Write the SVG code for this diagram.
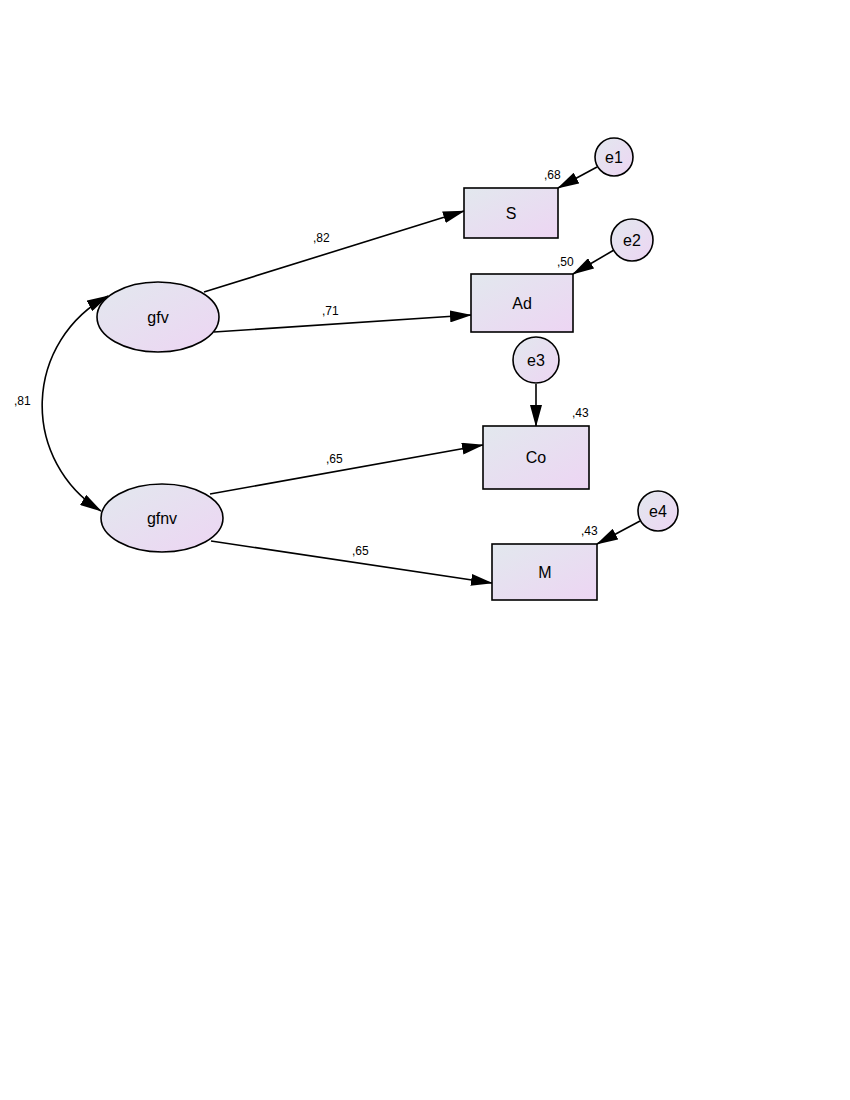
<svg xmlns="http://www.w3.org/2000/svg" width="850" height="1100" viewBox="0 0 850 1100">
<defs>
<linearGradient id="g" x1="0" y1="0" x2="1" y2="1">
<stop offset="0" stop-color="#e2e8ee"/>
<stop offset="1" stop-color="#edd5f3"/>
</linearGradient>
<marker id="ah" markerUnits="userSpaceOnUse" markerWidth="22" markerHeight="12" viewBox="0 0 22 12" refX="21" refY="6" orient="auto-start-reverse">
<path d="M0,0 L22,6 L0,12 Z" fill="#000"/>
</marker>
<style>
.n{fill:url(#g);stroke:#000;stroke-width:1.6}
.t{font-family:"Liberation Sans",Arial,sans-serif;font-size:16px;text-anchor:middle;dominant-baseline:central;fill:#000}
.v{font-family:"Liberation Sans",Arial,sans-serif;font-size:12px;fill:#000}
.c{stroke:#000;stroke-width:1.6;fill:none;marker-end:url(#ah)}
</style>
</defs>
<rect width="850" height="1100" fill="#fff"/>
<g id="connectors">
<line class="c" x1="204" y1="292" x2="464" y2="211"/>
<line class="c" x1="214" y1="332" x2="471" y2="315"/>
<line class="c" x1="210" y1="494" x2="483" y2="445"/>
<line class="c" x1="211" y1="541" x2="492" y2="583"/>
<line class="c" x1="597" y1="167" x2="558" y2="188"/>
<line class="c" x1="614" y1="250" x2="573" y2="274"/>
<line class="c" x1="536" y1="384" x2="536" y2="426"/>
<line class="c" x1="640" y1="521" x2="597" y2="544"/>
<path class="c" style="marker-start:url(#ah)" d="M108,296 A124,124 0 0 0 101,511"/>
<text class="v" x="313" y="242">,82</text>
<text class="v" x="322" y="315">,71</text>
<text class="v" x="326" y="463">,65</text>
<text class="v" x="352" y="555">,65</text>
<text class="v" x="14" y="405">,81</text>
<text class="v" x="544" y="179">,68</text>
<text class="v" x="557" y="266">,50</text>
<text class="v" x="572" y="417">,43</text>
<text class="v" x="581" y="535">,43</text>
</g>
<g id="gfv"><ellipse class="n" cx="158" cy="317" rx="61" ry="35"/><text class="t" x="158" y="317">gfv</text></g>
<g id="gfnv"><ellipse class="n" cx="162" cy="518" rx="61" ry="34"/><text class="t" x="162" y="518">gfnv</text></g>
<g id="S"><rect class="n" x="464" y="188" width="94" height="50"/><text class="t" x="511" y="213">S</text></g>
<g id="Ad"><rect class="n" x="471" y="274" width="102" height="58"/><text class="t" x="522" y="303">Ad</text></g>
<g id="Co"><rect class="n" x="483" y="426" width="106" height="63"/><text class="t" x="536" y="457">Co</text></g>
<g id="M"><rect class="n" x="492" y="544" width="105" height="56"/><text class="t" x="545" y="572">M</text></g>
<g id="e1"><circle class="n" cx="614" cy="157" r="19"/><text class="t" x="614" y="157">e1</text></g>
<g id="e2"><circle class="n" cx="632" cy="240" r="21"/><text class="t" x="632" y="240">e2</text></g>
<g id="e3"><circle class="n" cx="536" cy="360" r="23"/><text class="t" x="536" y="360">e3</text></g>
<g id="e4"><circle class="n" cx="658" cy="511" r="20"/><text class="t" x="658" y="511">e4</text></g>
</svg>
